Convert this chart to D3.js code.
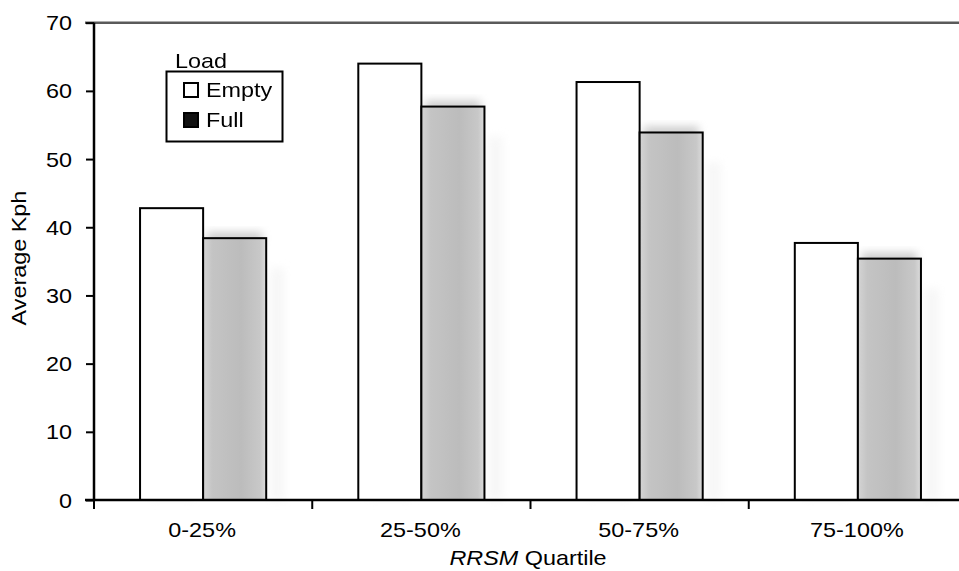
<!DOCTYPE html>
<html><head><meta charset="utf-8">
<script src="https://cdn.jsdelivr.net/npm/d3@7/dist/d3.min.js"></script>
<style>body{margin:0;background:#fff}svg{display:block;font-family:"Liberation Sans",Arial,sans-serif}</style>
</head><body><svg id="c" width="959" height="571"></svg>
<script>
const categories = ["0-25%","25-50%","50-75%","75-100%"];
const series = ["Empty","Full"];
const emptyValues = [42.8, 64.0, 61.3, 37.7];
const fullValues = [38.4, 57.7, 53.9, 35.4];
const yTicks = [0,10,20,30,40,50,60,70];

(function(){
const svg = d3.select("#c");
const FS = 20, SX = 1.17;
const pLeft = 94, pRight = 967, pTop = 22.7, pBottom = 500;
const x = d3.scaleBand().domain(categories).range([pLeft, pRight]).paddingInner(0).paddingOuter(0);
const y = d3.scaleLinear().domain([0,70]).range([pBottom, pTop]);
const bw = x.bandwidth()*0.289;

function label(parent, tx, ty, txt, anchor, extra){
  return parent.append("text").attr("transform",`translate(${tx},${ty}) ${extra||""} scale(${SX},1)`)
    .attr("text-anchor",anchor||"start").attr("font-size",FS).attr("fill","#000").text(txt);
}

const defs = svg.append("defs");
const g1 = defs.append("linearGradient").attr("id","fg").attr("x1","0").attr("x2","1");
g1.append("stop").attr("offset","0").attr("stop-color","#d4d4d4");
g1.append("stop").attr("offset","0.15").attr("stop-color","#c4c4c4");
g1.append("stop").attr("offset","0.6").attr("stop-color","#bcbcbc");
g1.append("stop").attr("offset","0.9").attr("stop-color","#c8c8c8");
g1.append("stop").attr("offset","1").attr("stop-color","#dcdcdc");
const f = defs.append("filter").attr("id","blur").attr("x","-50%").attr("y","-50%").attr("width","200%").attr("height","200%");
f.append("feGaussianBlur").attr("stdDeviation",4);

// shadows
const sh = svg.append("g").attr("opacity",0.5);
categories.forEach((c,i)=>{
  const cx = x(c)+x.bandwidth()/2;
  sh.append("rect").attr("x",cx+4).attr("y",y(fullValues[i])-6).attr("width",bw-8).attr("height",12)
    .attr("fill","#999").attr("filter","url(#blur)");
  sh.append("rect").attr("x",cx-bw+10).attr("y",y(emptyValues[i])+20).attr("width",bw-20).attr("height",pBottom-y(emptyValues[i])-20)
    .attr("fill","#f4f4f4").attr("filter","url(#blur)");
  sh.append("rect").attr("x",cx+bw+4).attr("y",y(fullValues[i])+30).attr("width",14).attr("height",pBottom-y(fullValues[i])-30)
    .attr("fill","#eeeeee").attr("filter","url(#blur)");
});

// top border line
svg.append("line").attr("x1",85).attr("x2",959).attr("y1",pTop).attr("y2",pTop).attr("stroke","#5a5a5a").attr("stroke-width",2.5);

// bars
const bars = svg.append("g");
categories.forEach((c,i)=>{
  const cx = x(c)+x.bandwidth()/2;
  bars.append("rect").attr("x",cx-bw).attr("y",y(emptyValues[i])).attr("width",bw).attr("height",pBottom-y(emptyValues[i]))
    .attr("fill","#fff").attr("stroke","#000").attr("stroke-width",2);
  bars.append("rect").attr("x",cx).attr("y",y(fullValues[i])).attr("width",bw).attr("height",pBottom-y(fullValues[i]))
    .attr("fill","url(#fg)").attr("stroke","#000").attr("stroke-width",2);
});

// y axis
const ya = svg.append("g").attr("transform",`translate(${pLeft},0)`)
  .call(d3.axisLeft(y).tickValues(yTicks).tickSize(8).tickPadding(8));
ya.select(".domain").attr("stroke","#000").attr("stroke-width",2.5).attr("d",`M0,${pTop}V${pBottom}`);
ya.selectAll(".tick line").attr("stroke","#000").attr("stroke-width",2);
ya.selectAll(".tick text").attr("x",0).attr("dy","0.35em").attr("font-size",FS).attr("fill","#000")
  .attr("font-family","Liberation Sans, Arial, sans-serif").attr("transform",`translate(-22,0) scale(${SX},1)`);

// x axis
const xa = svg.append("g").attr("transform",`translate(0,${pBottom})`)
  .call(d3.axisBottom(x).tickSize(0).tickPadding(16));
xa.select(".domain").attr("stroke","#000").attr("stroke-width",2.5).attr("d",`M${pLeft-9},0H${959}`);
xa.selectAll(".tick text").attr("y",0).attr("dy",0).attr("font-size",FS).attr("fill","#000")
  .attr("font-family","Liberation Sans, Arial, sans-serif").attr("transform",`translate(-1,37) scale(${SX},1)`);
const bounds = categories.map(c=>x(c));
svg.append("g").selectAll("line").data(bounds).join("line")
  .attr("x1",d=>d).attr("x2",d=>d).attr("y1",pBottom).attr("y2",pBottom+9).attr("stroke","#000").attr("stroke-width",2);

// axis titles
label(svg, 26, 258, "Average Kph", "middle", "rotate(-90)");
const xt = label(svg, 528, 565, "", "middle");
xt.append("tspan").attr("font-style","italic").text("RRSM");
xt.append("tspan").text(" Quartile");

// legend
const lg = svg.append("g");
label(lg, 175, 68, "Load");
lg.append("rect").attr("x",166.5).attr("y",71.5).attr("width",116).attr("height",70).attr("fill","#fff").attr("stroke","#000").attr("stroke-width",2);
series.forEach((s,i)=>{
  const yy = 90 + i*30;
  lg.append("rect").attr("x",184).attr("y",yy-7).attr("width",14).attr("height",14)
    .attr("fill", i===0?"#fff":"#111").attr("stroke","#000").attr("stroke-width",2);
  label(lg, 206, yy+7, s);
});
})();
</script></body></html>
